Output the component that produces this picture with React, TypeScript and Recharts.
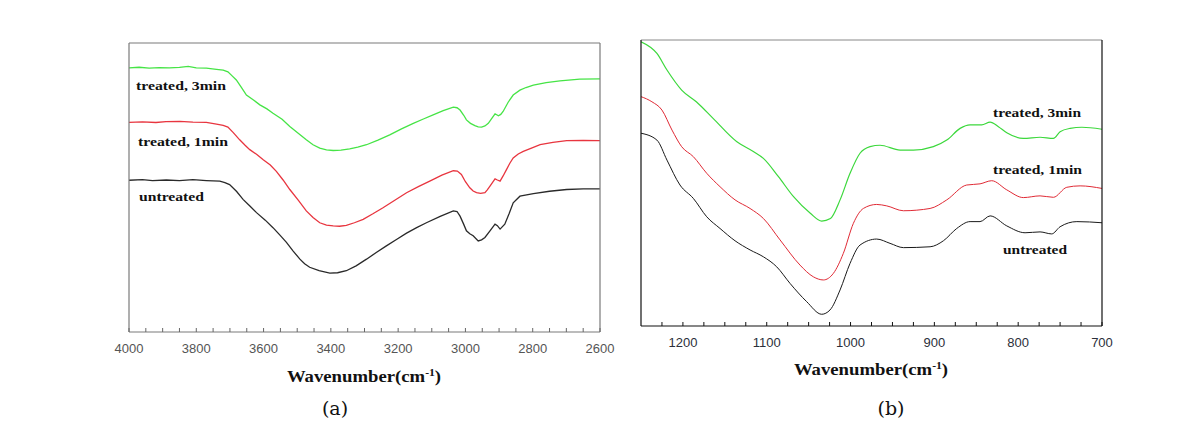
import * as React from "react";
import { LineChart, Line, XAxis, YAxis } from "recharts";

// panel (a): [wavenumber, relative transmittance]
const aTreated3: [number, number][] = [
  [4000, 91.4], [3970, 91.6], [3940, 91.3], [3910, 91.5], [3880, 91.4], [3850, 91.6], [3824, 91.9],
  [3800, 91.4], [3770, 91.3], [3740, 90.9], [3720, 90.6], [3706, 90.0], [3695, 88.8], [3681, 87.2],
  [3665, 84.5], [3651, 82.0], [3630, 80.3], [3611, 78.6], [3590, 77.2], [3572, 75.7], [3545, 73.6],
  [3522, 71.1], [3497, 68.8], [3473, 66.5], [3453, 64.8], [3433, 63.6], [3413, 63.0], [3393, 62.8],
  [3370, 62.9], [3344, 63.4], [3320, 64.0], [3294, 64.8], [3260, 66.4], [3225, 68.2], [3190, 70.3],
  [3155, 72.2], [3125, 73.7], [3096, 75.1], [3066, 76.6], [3036, 77.8], [3025, 77.6], [3016, 76.8],
  [3005, 75.0], [2997, 73.4], [2985, 72.2], [2972, 71.4], [2962, 71.0], [2952, 70.9], [2942, 71.3],
  [2932, 72.2], [2920, 74.2], [2912, 75.5], [2902, 74.8], [2895, 75.3], [2888, 76.3], [2873, 79.5],
  [2858, 82.0], [2838, 83.7], [2820, 84.6], [2798, 85.4], [2760, 86.3], [2719, 86.9], [2660, 87.5],
  [2600, 87.6],
];
const aTreated1: [number, number][] = [
  [4000, 72.5], [3960, 72.7], [3920, 72.5], [3890, 72.8], [3849, 72.9], [3810, 72.6], [3770, 72.5],
  [3740, 71.9], [3720, 71.5], [3706, 70.9], [3690, 69.0], [3671, 66.5], [3655, 64.6], [3641, 63.1],
  [3620, 61.4], [3601, 59.6], [3580, 57.8], [3562, 55.6], [3542, 52.6], [3522, 49.3], [3497, 45.6],
  [3473, 41.9], [3453, 39.6], [3433, 37.8], [3413, 37.0], [3393, 36.7], [3374, 36.6], [3354, 36.9],
  [3330, 37.8], [3304, 39.0], [3275, 40.9], [3245, 43.0], [3210, 45.6], [3175, 48.2], [3140, 50.3],
  [3106, 52.2], [3070, 54.3], [3036, 55.8], [3024, 55.7], [3012, 54.5], [3000, 52.0], [2987, 49.9],
  [2977, 48.8], [2967, 48.2], [2955, 48.0], [2942, 48.2], [2935, 49.2], [2927, 50.5], [2912, 53.0],
  [2905, 52.6], [2897, 52.2], [2888, 54.0], [2878, 56.2], [2868, 58.4], [2858, 60.2], [2843, 61.6],
  [2828, 62.5], [2800, 63.8], [2778, 64.8], [2740, 65.6], [2699, 66.2], [2650, 66.3], [2600, 66.2],
];
const aUntreated: [number, number][] = [
  [4000, 52.5], [3960, 52.7], [3930, 52.4], [3889, 52.6], [3850, 52.4], [3810, 52.7], [3770, 52.4],
  [3730, 52.2], [3715, 51.7], [3701, 51.0], [3680, 48.6], [3661, 45.9], [3640, 43.5], [3621, 41.3],
  [3595, 38.7], [3572, 36.1], [3552, 33.6], [3532, 31.0], [3512, 28.0], [3492, 25.2], [3478, 23.6],
  [3463, 22.4], [3435, 21.2], [3403, 20.4], [3380, 20.5], [3354, 21.2], [3325, 22.9], [3294, 25.2],
  [3265, 27.5], [3235, 29.8], [3205, 32.0], [3175, 34.2], [3145, 36.1], [3116, 37.8], [3075, 40.0],
  [3036, 41.9], [3025, 41.7], [3016, 40.1], [3006, 37.5], [2997, 35.0], [2987, 34.0], [2977, 33.3],
  [2962, 31.5], [2952, 31.9], [2942, 32.7], [2927, 35.0], [2912, 37.3], [2905, 36.8], [2897, 35.6],
  [2883, 37.3], [2870, 41.0], [2858, 44.7], [2838, 47.0], [2798, 47.9], [2750, 48.7], [2699, 49.3],
  [2650, 49.5], [2600, 49.5],
];

// panel (b)
const bTreated3: [number, number][] = [
  [1250, 99.4], [1231, 95.3], [1219, 89.5], [1201.5, 82.5], [1184, 78.4], [1164, 72.6], [1136, 64.5],
  [1116, 61.0], [1104, 58.6], [1086, 52.2], [1068, 45.2], [1048, 39.4], [1034.4, 36.7], [1024, 37.6],
  [1012.5, 44.1], [1000.6, 53.4], [988.7, 60.4], [976.7, 62.7], [964.8, 63.2], [940.9, 61.5],
  [925, 61.5], [901.2, 62.7], [885.2, 65.0], [869.3, 69.1], [857.4, 70.3], [843.5, 70.3], [833.5, 71.3],
  [823.6, 69.7], [813.6, 67.6], [793.8, 65.6], [773.9, 66.0], [758, 65.6], [750, 67.9], [738, 69.1],
  [724, 69.5], [700, 68.8],
];
const bTreated1: [number, number][] = [
  [1250, 80.2], [1237, 78.4], [1225, 75.5], [1213, 68.5], [1201.5, 62.7], [1187.5, 59.2], [1171.6, 53.4],
  [1155.7, 48.7], [1137.8, 44.1], [1119.9, 41.1], [1104, 37.6], [1084.1, 30.1], [1060.3, 21.3],
  [1044.4, 17.2], [1032.4, 16.1], [1020.5, 18.4], [1008.6, 25.4], [996.6, 35.9], [984.7, 41.1],
  [968.8, 42.5], [956.8, 42.0], [936.9, 40.3], [905.1, 41.1], [885.2, 44.1], [861.4, 49.3],
  [845.5, 49.7], [831.6, 50.8], [813.6, 47.6], [793.8, 44.9], [773.9, 45.5], [758, 45.0], [742, 48.5],
  [726.1, 49.0], [700, 48.1],
];
const bUntreated: [number, number][] = [
  [1250, 67.4], [1231, 65.0], [1219, 58.0], [1203.5, 49.3], [1187.5, 44.6], [1171.6, 38.2],
  [1155.7, 34.1], [1137.8, 29.8], [1119.9, 26.6], [1104, 24.2], [1088.1, 20.7], [1072.2, 14.9],
  [1052.3, 8.5], [1034.4, 4.1], [1024.5, 5.6], [1012.5, 12.6], [1000.6, 21.9], [988.7, 28.3],
  [968.8, 30.4], [952.9, 28.9], [936.9, 27.4], [905.1, 27.7], [889.2, 29.8], [873.3, 34.1],
  [857.4, 36.5], [845.5, 36.5], [833.5, 38.5], [813.6, 35.0], [791.8, 32.6], [773.9, 32.9], [760, 32.2],
  [750, 34.7], [730, 36.5], [700, 36.1],
];

const aTicks = [4000, 3800, 3600, 3400, 3200, 3000, 2800, 2600];
const bTicks = [1200, 1100, 1000, 900, 800, 700];

const toRows = (pts: [number, number][]) => pts.map(([w, v]) => ({ w, v }));

const range = (from: number, to: number, step: number) => {
  const out: number[] = [];
  for (let t = from; t <= to; t += step) out.push(t);
  return out;
};

const SERIF = "'Liberation Serif', 'Times New Roman', serif";
const SANS = "'Liberation Sans', Arial, sans-serif";

// ticks point inward, so lines are drawn by hand from the axis position
const makeBottomTick = (labels: number[], color: string, tickColor: string) => (props: any) => {
  const { x, y, payload } = props;
  const labelled = labels.includes(payload.value);
  return (
    <g>
      <line x1={x} x2={x} y1={y} y2={y - 4} stroke={tickColor} strokeWidth={1} />
      {labelled && (
        <text x={x} y={y + 21} textAnchor="middle" fontFamily={SANS} fontSize={13} fill={color}>
          {payload.value}
        </text>
      )}
    </g>
  );
};

const makeTopTick = (tickColor: string) => (props: any) => {
  const { x, y } = props;
  return <line x1={x} x2={x} y1={y} y2={y + 4} stroke={tickColor} strokeWidth={1} />;
};

const Title = ({ x, y }: { x: number; y: number }) => (
  <g transform={`translate(${x},${y}) scale(1.17,1)`}>
    <text x={0} y={0} textAnchor="middle" fontFamily={SERIF} fontWeight="bold" fontSize={16} fill="#111">
      Wavenumber(cm
      <tspan dy={-6} fontSize={10}>-1</tspan>
      <tspan dy={6}>)</tspan>
    </text>
  </g>
);

const Note = ({ x, y, text, len }: { x: number; y: number; text: string; len: number }) => (
  <text x={x} y={y} fontFamily={SERIF} fontWeight="bold" fontSize={13} fill="#111"
    textLength={len} lengthAdjust="spacingAndGlyphs">
    {text}
  </text>
);

const PanelA = () => {
  const minor = range(2600, 4000, 50);
  const top = minor.filter((t) => t % 200 !== 0);
  const frame = { stroke: "#7a7a7a", strokeWidth: 1.2 };
  return (
    <LineChart width={620} height={423} margin={{ top: 42, left: 128, right: 19, bottom: 90 }}>
      <XAxis dataKey="w" type="number" domain={[2600, 4000]} reversed allowDataOverflow height={1}
        ticks={minor} interval={0} tickSize={0} tickMargin={0}
        tick={makeBottomTick(aTicks, "#555", "#666")} tickLine={false} axisLine={frame} />
      <XAxis xAxisId="top" orientation="top" dataKey="w" type="number" domain={[2600, 4000]} reversed
        height={1} ticks={top} interval={0} tickSize={0} tickMargin={0} tick={makeTopTick("#666")}
        tickLine={false} axisLine={frame} />
      <YAxis type="number" domain={[0, 100]} allowDataOverflow width={1} tick={false} tickLine={false}
        axisLine={frame} />
      <YAxis yAxisId="r" orientation="right" type="number" domain={[0, 100]} width={1} tick={false}
        tickLine={false} axisLine={frame} />
      <Line data={toRows(aUntreated)} dataKey="v" stroke="#2a2a2a" strokeWidth={1.3} dot={false}
        isAnimationActive={false} type="linear" />
      <Line data={toRows(aTreated1)} dataKey="v" stroke="#e8353f" strokeWidth={1.3} dot={false}
        isAnimationActive={false} type="linear" />
      <Line data={toRows(aTreated3)} dataKey="v" stroke="#46e446" strokeWidth={1.3} dot={false}
        isAnimationActive={false} type="linear" />
    </LineChart>
  );
};

const PanelB = () => {
  const minor = range(700, 1225, 25);
  const top = minor.filter((t) => t % 100 !== 0);
  const frame = { stroke: "#111", strokeWidth: 1.2 };
  return (
    <LineChart width={500} height={423} margin={{ top: 39, left: 20, right: 17, bottom: 96 }}>
      <XAxis dataKey="w" type="number" domain={[700, 1250]} reversed allowDataOverflow height={1}
        ticks={minor} interval={0} tickSize={0} tickMargin={0}
        tick={makeBottomTick(bTicks, "#2b2f3a", "#111")} tickLine={false} axisLine={frame} />
      <XAxis xAxisId="top" orientation="top" dataKey="w" type="number" domain={[700, 1250]} reversed
        height={1} ticks={top} interval={0} tickSize={0} tickMargin={0} tick={makeTopTick("#333")}
        tickLine={false} axisLine={{ stroke: "#888", strokeWidth: 1 }} />
      <YAxis type="number" domain={[0, 100]} allowDataOverflow width={1} tick={false} tickLine={false}
        axisLine={frame} />
      <YAxis yAxisId="r" orientation="right" type="number" domain={[0, 100]} width={1} tick={false}
        tickLine={false} axisLine={frame} />
      <Line data={toRows(bUntreated)} dataKey="v" stroke="#1a1a1a" strokeWidth={1} dot={false}
        isAnimationActive={false} type="monotone" />
      <Line data={toRows(bTreated1)} dataKey="v" stroke="#e02a35" strokeWidth={1} dot={false}
        isAnimationActive={false} type="monotone" />
      <Line data={toRows(bTreated3)} dataKey="v" stroke="#3cd83c" strokeWidth={1.2} dot={false}
        isAnimationActive={false} type="monotone" />
    </LineChart>
  );
};

export default function App() {
  return (
    <div style={{ position: "absolute", left: 0, top: 0, width: 1184, height: 423, background: "#fff", overflow: "hidden" }}>
      <div style={{ position: "absolute", left: 0, top: 0 }}>
        <PanelA />
      </div>
      <div style={{ position: "absolute", left: 620, top: 0 }}>
        <PanelB />
      </div>
      <svg width={1184} height={423} style={{ position: "absolute", left: 0, top: 0, pointerEvents: "none" }}>
        <Note x={136} y={90} text="treated, 3min" len={90} />
        <Note x={138} y={146} text="treated, 1min" len={90} />
        <Note x={139} y={201} text="untreated" len={65} />
        <Note x={993} y={117} text="treated, 3min" len={88} />
        <Note x={993} y={174} text="treated, 1min" len={89} />
        <Note x={1003} y={254} text="untreated" len={64} />
        <Title x={364} y={382} />
        <Title x={871} y={375} />
        <text x={335} y={415} textAnchor="middle" fontFamily="'DejaVu Serif', serif" fontSize={19} fill="#111">(a)</text>
        <text x={891} y={415} textAnchor="middle" fontFamily="'DejaVu Serif', serif" fontSize={19} fill="#111">(b)</text>
      </svg>
    </div>
  );
}
